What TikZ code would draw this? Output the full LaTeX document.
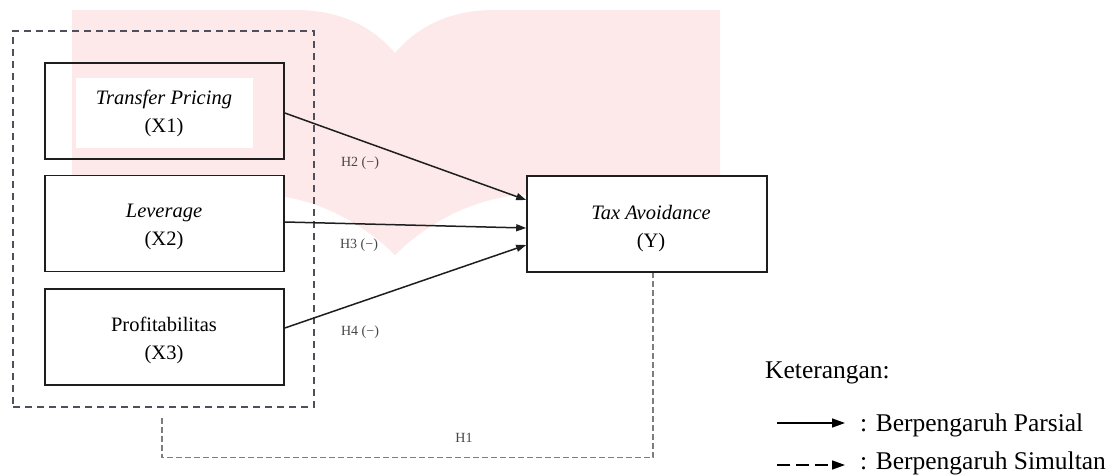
\documentclass[tikz,border=0pt]{standalone}
\usepackage{fontspec}
\setmainfont{Liberation Serif}
\usetikzlibrary{arrows.meta}
\definecolor{wm}{RGB}{253,233,233}
\definecolor{boxline}{RGB}{30,30,30}
\definecolor{grpline}{RGB}{80,80,92}
\definecolor{hline}{RGB}{125,125,125}
\definecolor{hlabel}{RGB}{70,70,70}
\tikzset{
  varbox/.style={draw=boxline, line width=1.6pt, minimum width=239pt, minimum height=96pt, inner sep=0pt},
  vartext/.style={inner sep=0pt, align=center, font=\fontsize{20.5}{28}\selectfont},
  grpbox/.style={draw=grpline, line width=1.3pt, dash pattern=on 7pt off 5pt, minimum width=301pt, minimum height=376pt, inner sep=0pt},
  parsial/.style={draw=boxline, line width=1.5pt, -{Triangle[length=10pt,width=7pt]}},
  simultan/.style={draw=hline, line width=1.1pt, dash pattern=on 6pt off 3pt},
  hyp/.style={inner sep=0pt, text=hlabel, font=\fontsize{14}{16}\selectfont},
  legtext/.style={anchor=base west, inner sep=0pt, font=\fontsize{25.5}{30}\selectfont},
  legarrow/.style={draw=black, line width=1.5pt, -{Triangle[length=13pt,width=9pt]}}
}
\begin{document}
\begin{tikzpicture}[x=1pt,y=-1pt]
\useasboundingbox (0,0) rectangle (1118,476);
\fill[white] (0,0) rectangle (1118,476);
% watermark
\fill[wm] (72,10) -- (295,10) .. controls (345,10) and (375,30) .. (395,53)
  .. controls (415,30) and (445,10) .. (495,10) -- (720,10) -- (720,178)
  -- (510,196) .. controls (450,205) and (410,240) .. (395,255)
  .. controls (380,240) and (340,205) .. (280,196) -- (72,178) -- cycle;
% group box
\node[grpbox] (grp) at (163.5,219) {};
% variable boxes
\node[varbox] (x1) at (164.5,111) {};
\node[vartext, fill=white, minimum width=177pt, minimum height=70pt] (x1t) at (164,113) {\textit{Transfer Pricing}\\(X1)};
\node[varbox, fill=white] (x2) at (164.5,223.5) {};
\node[vartext] (x2t) at (164,227) {\textit{Leverage}\\(X2)};
\node[varbox, fill=white] (x3) at (164.5,337) {};
\node[vartext] (x3t) at (164,340) {Profitabilitas\\(X3)};
\node[varbox, minimum width=240pt, fill=white] (y) at (647,224) {};
\node[vartext] (yt) at (651,229) {\textit{Tax Avoidance}\\(Y)};
% partial arrows
\draw[parsial] ([yshift=-2pt]x1.east) -- ([yshift=24pt]y.west);
\draw[parsial] ([yshift=1.5pt]x2.east) -- ([yshift=-4pt]y.west);
\draw[parsial] ([yshift=9pt]x3.east) -- ([yshift=-21pt]y.west);
\node[hyp] (h2) at (360,163) {H2 (−)};
\node[hyp] (h3) at (359,245) {H3 (−)};
\node[hyp] (h4) at (360,332) {H4 (−)};
% simultaneous
\draw[simultan] ([xshift=-1.5pt,yshift=-10pt]grp.south) -- ++(0,40) -| ([xshift=6pt]y.south);
\node[hyp] (h1) at (464,438) {H1};
% legend
\node[legtext] (ket) at (765,378) {Keterangan:};
\coordinate (pa) at (777,423);
\coordinate (pb) at (845,423);
\draw[legarrow] (pa) -- (pb);
\node[legtext] (lp) at (860,431) {: Berpengaruh Parsial};
\coordinate (sa) at (777,465);
\coordinate (sb) at (845,465);
\draw[legarrow, dash pattern=on 13pt off 6pt] (sa) -- (sb);
\node[legtext] (ls) at (860,469) {: Berpengaruh Simultan};
\end{tikzpicture}
\end{document}
